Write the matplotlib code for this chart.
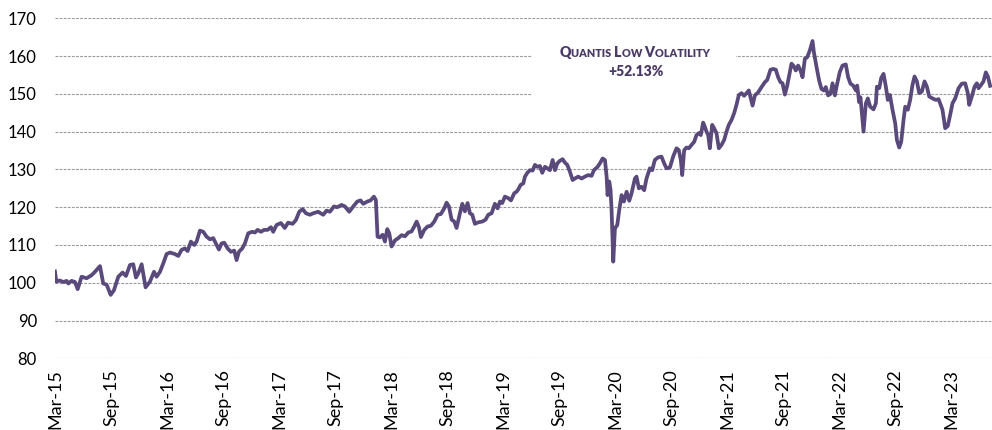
import matplotlib
matplotlib.use("Agg")
import matplotlib.pyplot as plt
from matplotlib.offsetbox import TextArea, HPacker, VPacker, AnnotationBbox
from matplotlib.patches import Rectangle

plt.rcParams["font.family"] = ["Lato", "DejaVu Sans"]

# months elapsed since Mar-15, and the index level
months = [
    0.0, 0.15, 0.5, 0.9, 1.25, 1.43, 1.78, 2.14, 2.43, 2.85, 3.39, 3.92, 4.28, 4.82, 5.17, 5.53,
    5.96, 6.31, 6.78, 7.24, 7.6, 8.03, 8.38, 8.67, 8.92, 9.28, 9.7, 10.17, 10.6, 10.88, 11.24, 11.59,
    11.95, 12.31, 12.84, 13.2, 13.55, 13.91, 14.2, 14.55, 14.91, 15.16, 15.52, 15.87, 16.23, 16.59,
    16.94, 17.3, 17.55, 17.83, 18.12, 18.48, 18.83, 19.19, 19.44, 19.69, 20.05, 20.33, 20.69, 21.12,
    21.4, 21.69, 22.04, 22.4, 22.76, 23.12, 23.36, 23.72, 24.19, 24.6, 24.95, 25.44, 25.79, 26.15,
    26.51, 26.86, 27.29, 27.65, 28.18, 28.43, 28.72, 29.07, 29.43, 29.86, 30.22, 30.68, 31.04, 31.5,
    31.93, 32.36, 32.71, 33.0, 33.43, 33.78, 34.14, 34.35, 34.53, 34.78, 35.07, 35.32, 35.57, 35.78,
    36.03, 36.39, 36.74, 37.1, 37.46, 37.82, 38.17, 38.46, 38.71, 38.96, 39.17, 39.53, 39.89, 40.24,
    40.6, 40.96, 41.31, 41.67, 41.92, 42.17, 42.46, 42.74, 42.99, 43.35, 43.6, 43.88, 44.17, 44.42,
    44.67, 44.95, 45.31, 45.74, 46.09, 46.38, 46.74, 47.09, 47.38, 47.63, 47.88, 48.16, 48.52, 48.81,
    49.16, 49.41, 49.59, 49.84, 50.13, 50.31, 50.56, 50.84, 51.13, 51.38, 51.63, 51.91, 52.16, 52.45,
    52.7, 52.98, 53.27, 53.52, 53.77, 54.05, 54.34, 54.59, 54.84, 55.12, 55.41, 55.66, 56.01, 56.37,
    56.73, 57.08, 57.44, 57.69, 58.05, 58.33, 58.62, 58.87, 59.05, 59.15, 59.33, 59.47, 59.58, 59.76,
    59.94, 60.19, 60.4, 60.65, 60.9, 61.19, 61.47, 61.72, 62.08, 62.25, 62.5, 62.78, 63.07, 63.32,
    63.68, 63.93, 64.21, 64.57, 64.92, 65.21, 65.46, 65.82, 66.17, 66.53, 66.78, 66.99, 67.14, 67.35,
    67.6, 67.85, 68.14, 68.42, 68.67, 68.92, 69.13, 69.38, 69.56, 69.74, 69.92, 70.1, 70.35, 70.56,
    70.81, 71.06, 71.35, 71.63, 71.88, 72.13, 72.42, 72.7, 72.95, 73.2, 73.49, 73.77, 74.02, 74.27,
    74.67, 74.92, 75.27, 75.63, 75.99, 76.24, 76.59, 76.88, 77.16, 77.41, 77.66, 77.88, 78.13, 78.38,
    78.66, 78.84, 79.09, 79.3, 79.55, 79.8, 80.02, 80.27, 80.52, 80.8, 81.09, 81.23, 81.52, 81.8,
    82.05, 82.3, 82.51, 82.76, 83.01, 83.23, 83.48, 83.73, 84.01, 84.3, 84.65, 84.9, 85.15, 85.44,
    85.73, 85.87, 86.08, 86.22, 86.4, 86.55, 86.8, 87.01, 87.26, 87.62, 87.87, 87.98, 88.23, 88.44,
    88.69, 88.94, 89.15, 89.37, 89.65, 89.94, 90.12, 90.37, 90.58, 90.83, 91.01, 91.29, 91.54, 91.79,
    92.01, 92.26, 92.51, 92.79, 93.08, 93.33, 93.58, 93.93, 94.29, 94.58, 94.75, 95.0, 95.29, 95.57,
    95.82, 96.07, 96.36, 96.72, 97.07, 97.43, 97.71, 97.86, 98.14, 98.43, 98.68, 98.86, 99.14, 99.39,
    99.64, 99.86, 100.1,
]
level = [
    103.0, 100.3, 100.6, 100.2, 100.5, 99.8, 100.5, 100.2, 98.3, 101.6, 101.2, 102.0, 102.9, 104.4, 99.8, 99.5,
    96.8, 98.0, 101.6, 102.7, 101.8, 104.7, 104.9, 101.4, 102.5, 104.9, 98.8, 100.3, 102.9, 101.6, 102.9, 105.1,
    107.6, 108.0, 107.6, 107.1, 108.7, 109.1, 108.4, 110.9, 110.0, 110.9, 113.8, 113.5, 112.2, 111.5,
    111.8, 110.0, 108.8, 110.4, 110.6, 109.1, 108.2, 108.5, 106.0, 108.2, 109.1, 110.4, 113.1, 113.5,
    113.3, 114.0, 113.5, 114.0, 114.0, 114.7, 113.5, 115.3, 115.8, 114.5, 115.9, 115.6, 116.6, 118.8,
    119.5, 118.4, 118.0, 118.4, 118.8, 118.4, 118.0, 119.1, 118.8, 120.2, 120.0, 120.6, 120.2, 118.8,
    120.2, 121.5, 121.8, 120.9, 121.5, 121.8, 122.8, 121.9, 112.2, 112.0, 112.7, 110.9, 114.2, 113.1,
    109.6, 111.2, 111.8, 112.6, 112.3, 113.3, 113.6, 114.9, 116.2, 114.7, 112.1, 114.0, 114.9, 115.1,
    116.2, 118.0, 118.2, 119.7, 121.2, 120.2, 116.7, 116.2, 114.5, 118.4, 120.9, 118.9, 121.1, 118.4,
    118.0, 115.6, 116.0, 116.2, 116.7, 118.0, 118.4, 120.9, 119.7, 121.5, 121.1, 122.8, 122.4, 121.8,
    123.7, 124.1, 124.7, 125.9, 126.3, 128.1, 129.1, 129.8, 129.7, 131.2, 130.7, 130.9, 129.1, 130.7,
    130.3, 129.8, 132.5, 129.8, 131.6, 132.3, 132.7, 131.8, 131.2, 129.4, 127.2, 127.6, 128.1, 127.6,
    128.1, 128.5, 128.3, 129.8, 130.6, 131.6, 132.9, 132.5, 128.1, 123.2, 126.8, 124.6, 119.3, 105.6,
    114.4, 115.3, 119.3, 123.2, 121.5, 124.1, 121.7, 123.7, 127.6, 128.1, 125.0, 125.4, 124.5, 127.6,
    130.3, 129.8, 132.5, 133.2, 133.4, 131.6, 130.3, 130.5, 133.4, 135.6, 135.1, 132.5, 128.5, 135.1,
    135.8, 135.6, 136.5, 137.3, 139.1, 139.6, 139.1, 142.4, 141.3, 140.0, 139.1, 135.6, 141.8, 140.9,
    139.6, 135.6, 136.5, 137.8, 140.0, 141.8, 143.1, 144.9, 147.1, 149.7, 150.2, 149.5, 150.2, 150.9,
    146.9, 149.6, 150.4, 151.8, 153.1, 153.7, 156.4, 156.6, 156.4, 154.4, 153.1, 152.8, 149.8, 152.2,
    155.8, 158.0, 157.3, 156.2, 157.5, 156.2, 154.4, 159.3, 159.7, 161.5, 164.0, 161.1, 157.1, 153.5,
    151.3, 150.9, 151.8, 149.6, 150.0, 152.8, 149.6, 152.7, 155.8, 157.5, 157.8, 154.4, 152.7, 152.2,
    150.9, 152.2, 147.8, 149.1, 144.0, 140.0, 147.5, 148.8, 146.6, 145.9, 147.5, 151.9, 151.5, 154.2,
    155.3, 151.9, 148.4, 149.7, 145.8, 142.2, 137.8, 135.8, 137.3, 143.1, 146.6, 145.8, 148.4, 152.4,
    154.6, 153.3, 150.2, 150.6, 153.3, 151.9, 149.3, 148.8, 148.4, 148.6, 147.5, 145.8, 140.9, 141.5,
    144.4, 147.5, 148.8, 151.5, 152.7, 152.8, 150.2, 147.1, 149.3, 151.9, 152.8, 151.5, 152.4, 153.3,
    155.7, 154.6, 152.13,
]

tick_months = [0, 6, 12, 18, 24, 30, 36, 42, 48, 54, 60, 66, 72, 78, 84, 90, 96]
tick_labels = ["Mar-15", "Sep-15", "Mar-16", "Sep-16", "Mar-17", "Sep-17", "Mar-18", "Sep-18",
               "Mar-19", "Sep-19", "Mar-20", "Sep-20", "Mar-21", "Sep-21", "Mar-22", "Sep-22", "Mar-23"]

fund_name = "Quantis Low Volatility"
fund_perf = "+52.13%"

PURPLE = "#5a4a7c"
LABEL_PURPLE = "#4b3a66"

fig = plt.figure(figsize=(9.92, 4.30), dpi=100)
ax = fig.add_axes([0.0554, 0.1667, 0.9446, 0.7907])

ax.plot(months, level, color=PURPLE, lw=2.7, solid_joinstyle="round", zorder=3)

ax.set_xlim(0, 100.3)
ax.set_ylim(80, 170)
ax.set_yticks(range(80, 171, 10))
ax.set_xticks(tick_months)
ax.set_xticklabels(tick_labels, rotation=90)

ax.grid(axis="y", color="#9a9a9a", linestyle=(0, (2.5, 1.2)), linewidth=0.8)
ax.set_axisbelow(True)
for s in ax.spines.values():
    s.set_visible(False)
ax.tick_params(axis="both", length=0, colors="black")
ax.tick_params(axis="y", pad=13, labelsize=12)
ax.tick_params(axis="x", pad=8, labelsize=13)

# white panel behind the label, hides the gridlines
ax.add_patch(Rectangle((51.05, 146.5), 21.85, 20.5, facecolor="white", edgecolor="none", zorder=1))

# fake small caps for the fund name
parts = []
for word in fund_name.upper().split():
    parts.append(TextArea(word[0], textprops=dict(size=10.2, weight="heavy", color=LABEL_PURPLE)))
    parts.append(TextArea(word[1:] + " ", textprops=dict(size=7.8, weight="heavy", color=LABEL_PURPLE)))
name_row = HPacker(children=parts, align="baseline", pad=0, sep=0)
perf_row = TextArea(fund_perf, textprops=dict(size=10, weight="heavy", color=LABEL_PURPLE))
label = VPacker(children=[name_row, perf_row], align="center", pad=0, sep=4)
ab = AnnotationBbox(label, (62.2, 158.4), frameon=False, box_alignment=(0.5, 0.5), zorder=2)
ax.add_artist(ab)

fig.savefig("out.png", dpi=100)
